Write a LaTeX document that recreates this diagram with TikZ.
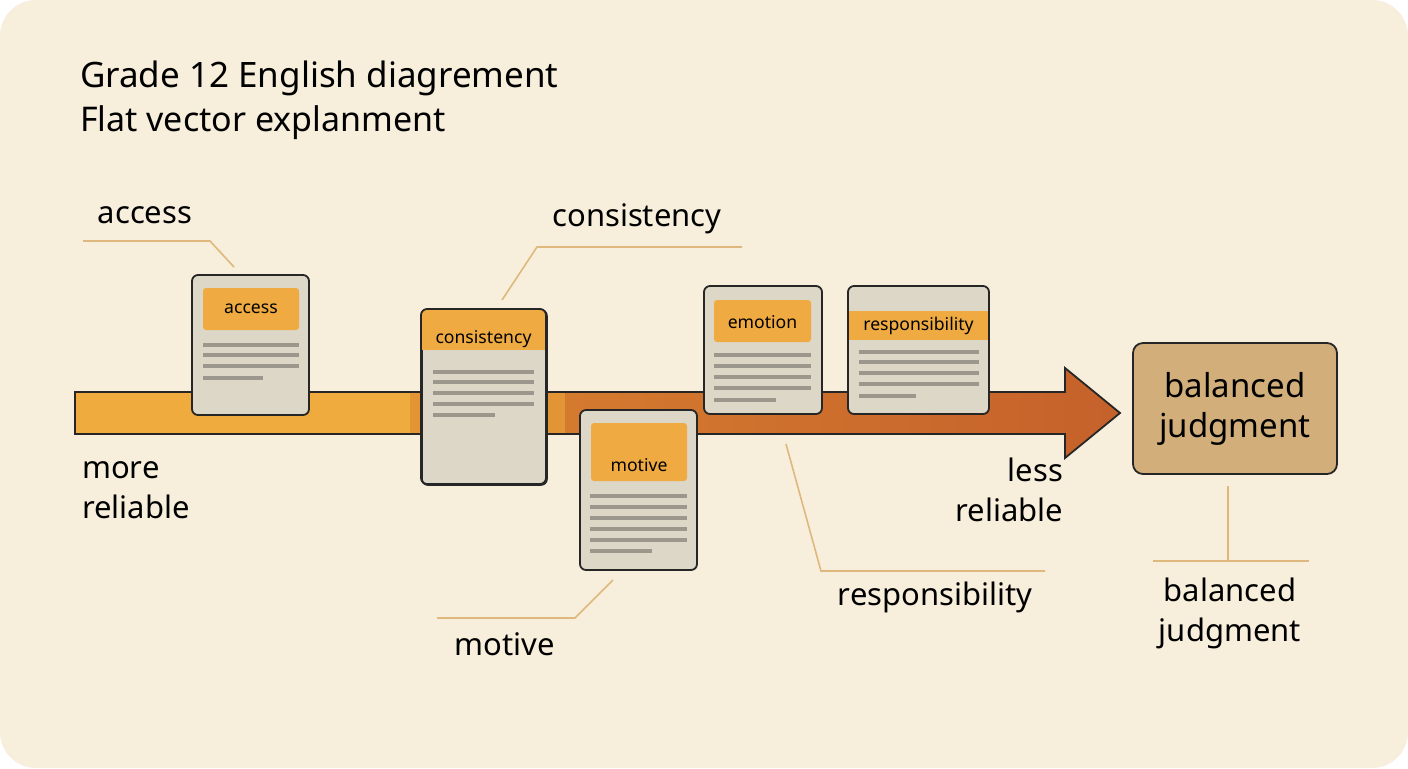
\documentclass[tikz,border=0pt]{standalone}
\usepackage{fontspec}
\setmainfont{Noto Sans}
\begin{document}
\begin{tikzpicture}[x=0.5pt,y=-0.5pt,
  card/.style={draw=black!85,line width=0.9pt,fill=cardbg,rounded corners=3pt},
  hdr/.style={fill=hdrc,rounded corners=1.5pt},
  tl/.style={draw=linec,line width=2pt},
  lead/.style={draw=leadc,line width=0.8pt},
  lab/.style={font=\fontsize{15.5}{19}\selectfont,align=center},
  hl/.style={font=\fontsize{8.8}{10}\selectfont}]
\definecolor{bg}{HTML}{F7EFDC}
\definecolor{cardbg}{HTML}{DDD7C8}
\definecolor{hdrc}{HTML}{EFAB42}
\definecolor{linec}{HTML}{9C978D}
\definecolor{leadc}{HTML}{DEB87C}
\definecolor{o1}{HTML}{EFAB3E}
\definecolor{o2}{HTML}{E39434}
\definecolor{o3}{HTML}{D47A2F}
\definecolor{o4}{HTML}{C5612B}
\useasboundingbox (0,0) rectangle (1408,768);
\fill[white] (0,0) rectangle (1408,768);
\fill[bg,rounded corners=18pt] (0,0) rectangle (1408,768);
% title
\node[anchor=west,font=\bfseries\fontsize{17.5}{20}\selectfont] (title) at (73,78) {Grade 12 English diagrement};
\node[anchor=west,font=\fontsize{17}{20}\selectfont] (sub) at (73,123) {Flat vector explanment};
% arrow
\fill[o1] (75,392) rectangle (410,434);
\fill[o2] (410,392) rectangle (565,434);
\shade[left color=o3,right color=o4] (565,392) -- (1065,392) -- (1065,368) -- (1120,413) -- (1065,458) -- (1065,434) -- (565,434) -- cycle;
\draw[black!85,line width=0.9pt] (75,392) -- (1065,392) -- (1065,368) -- (1120,413) -- (1065,458) -- (1065,434) -- (75,434) -- cycle;
% access card
\draw[card] (192,275) rectangle (309,415);
\node[hdr,minimum width=48pt,minimum height=21pt,hl] (hA) at (251,309) {access};
\foreach \y in {345,355,366} \draw[tl] (203,\y) -- (299,\y);
\draw[tl] (203,378) -- (263,378);
% consistency card
\node[card,minimum width=62.5pt,minimum height=87.5pt,anchor=north west,inner sep=0] (cC) at (421,309) {};
\begin{scope}
\clip[rounded corners=3pt] (421,309) rectangle (546,484);
\fill[hdrc] (421,309) rectangle (546,350);
\end{scope}
\draw[black!85,line width=0.9pt,rounded corners=3pt] (421,309) rectangle (546,484);
\node[hl] (hC) at (483.5,339) {consistency};
\foreach \y in {372,382,393,404} \draw[tl] (433,\y) -- (534,\y);
\draw[tl] (433,415) -- (495,415);
% motive card
\draw[card] (580,410) rectangle (697,570);
\node[hdr,minimum width=48pt,minimum height=29pt,hl,text depth=-8pt] (hM) at (639,452) {};
\node[hl] (mt) at (639,465) {motive};
\foreach \y in {496,507,518,529,540} \draw[tl] (590,\y) -- (687,\y);
\draw[tl] (590,551) -- (652,551);
% emotion card
\draw[card] (704,286) rectangle (822,414);
\node[hdr,minimum width=48.5pt,minimum height=21pt,hl] (hE) at (762.5,321) {};
\node[hl] (et) at (762.5,322) {emotion};
\foreach \y in {355,366,377,388} \draw[tl] (714,\y) -- (811,\y);
\draw[tl] (714,400) -- (776,400);
% responsibility card
\draw[card] (848,286) rectangle (989,414);
\fill[hdrc] (849,311) rectangle (988,340);
\node[hl] (hR) at (918.5,326) {responsibility};
\foreach \y in {352,362,373,384} \draw[tl] (859,\y) -- (979,\y);
\draw[tl] (859,396) -- (916,396);
% balanced box
\node[draw=black!85,line width=0.9pt,fill={rgb,255:red,210;green,175;blue,122},rounded corners=5pt,minimum width=102pt,minimum height=65.5pt,align=center,font=\fontsize{16.5}{20}\selectfont] (bal) at (1235,408.5) {balanced\\judgment};
% leaders and labels
\node[lab] (lA) at (145,215) {access};
\draw[lead] (83,241) -- (210,241) -- (234,267);
\node[lab] (lC) at (637,219) {consistency};
\draw[lead] (502,300) -- (537,247) -- (742,247);
\node[lab] (lM) at (505,644) {motive};
\draw[lead] (613,580) -- (575,618) -- (437,618);
\node[lab] (lR) at (935,597) {responsibility};
\draw[lead] (786,444) -- (821,571) -- (1045,571);
\node[lab,font=\fontsize{15.5}{20}\selectfont] (lB) at (1230,613) {balanced\\judgment};
\draw[lead] (1228,486) -- (1228,561);
\draw[lead] (1153,561) -- (1309,561);
\node[lab,align=left,anchor=west,font=\fontsize{15.5}{20}\selectfont] (more) at (75,490) {more\\reliable};
\node[lab,align=right,anchor=east,font=\fontsize{15.5}{20}\selectfont] (less) at (1070,490) {less\\reliable};
\end{tikzpicture}
\end{document}
